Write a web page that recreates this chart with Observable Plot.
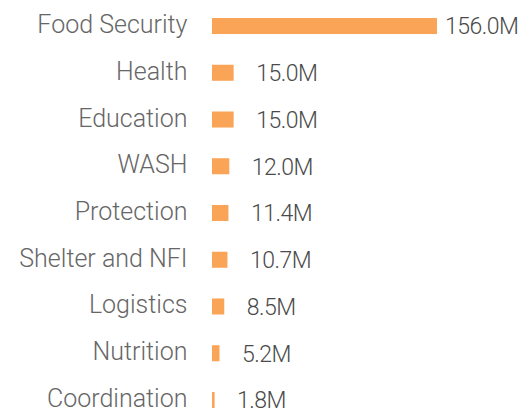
<!DOCTYPE html>
<html>
<head>
<meta charset="utf-8">
<script src="https://cdn.jsdelivr.net/npm/d3@7"></script>
<script src="https://cdn.jsdelivr.net/npm/@observablehq/plot@0.6"></script>
<style>
  html, body { margin: 0; padding: 0; background: #fff; }
  #chart { width: 522px; height: 409px; }
  .vlabel text { letter-spacing: -0.5px; }
</style>
</head>
<body>
<div id="chart"></div>
<script>
const categories = ["Food Security", "Health", "Education", "WASH", "Protection", "Shelter and NFI", "Logistics", "Nutrition", "Coordination"];
const values = [156.0, 15.0, 15.0, 12.0, 11.4, 10.7, 8.5, 5.2, 1.8];
const valueLabels = ["156.0M", "15.0M", "15.0M", "12.0M", "11.4M", "10.7M", "8.5M", "5.2M", "1.8M"];

const data = categories.map((c, i) => ({category: c, value: values[i], label: valueLabels[i]}));
const maxVal = d3.max(values);

const chart = Plot.plot({
  width: 522,
  height: 409,
  marginLeft: 212,
  marginRight: 85,
  marginTop: 18,
  marginBottom: 1,
  style: {fontFamily: "Roboto", fontSize: "25px", fontWeight: 300, background: "#fff"},
  x: {domain: [0, maxVal], axis: null},
  y: {domain: categories, paddingInner: 0.657, paddingOuter: 0, round: false, label: null},
  marks: [
    Plot.axisY({tickSize: 0, tickPadding: 25, fontSize: 25, fill: "#666", dy: -1.5, label: null}),
    Plot.barX(data, {x: "value", y: "category", fill: "#faa458"}),
    Plot.text(data.filter(d => d.value < maxVal), {x: "value", y: "category", text: "label", textAnchor: "start", dx: 22, dy: 0.5, fontSize: 23, fill: "#4a4a4a", className: "vlabel"}),
    Plot.text(data.filter(d => d.value === maxVal), {x: "value", y: "category", text: "label", textAnchor: "start", dx: 7.5, dy: 0.5, fontSize: 23, fill: "#4a4a4a", className: "vlabel"})
  ]
});
document.getElementById("chart").appendChild(chart);
</script>
</body>
</html>
